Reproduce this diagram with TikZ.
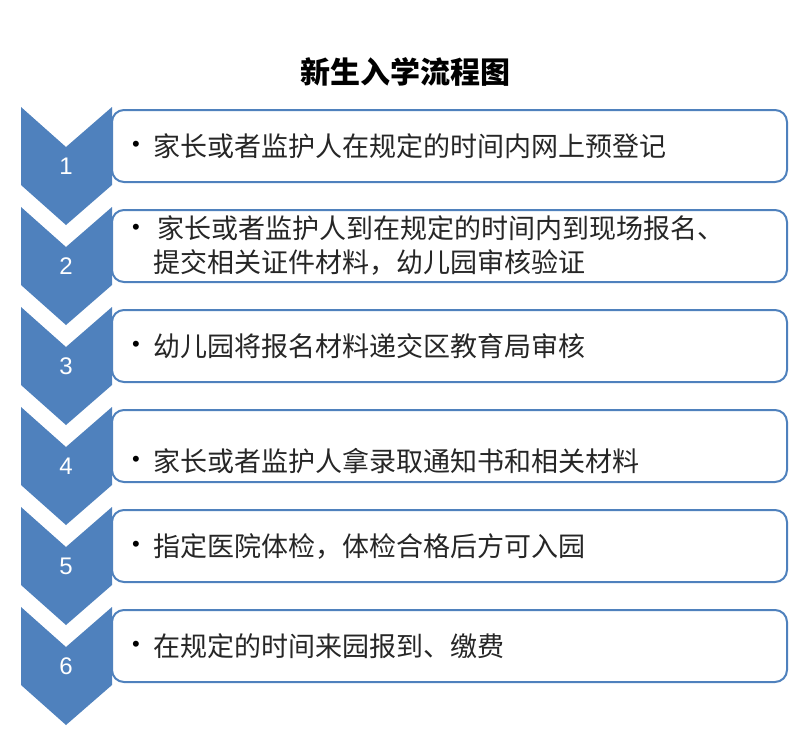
\documentclass[tikz,border=0pt]{standalone}
\usepackage{fontspec}
\setsansfont{Liberation Sans}
\newfontfamily\cjk{Noto Sans CJK SC}
\definecolor{cblue}{HTML}{4F81BD}
\begin{document}
\begin{tikzpicture}[x=1pt,y=-1pt,
  chev/.style={fill=cblue,draw=none},
  stepbox/.style={draw=cblue,line width=2pt,rounded corners=12pt,fill=white},
  num/.style={text=white,font=\sffamily\fontsize{24}{24}\selectfont},
  bul/.style={font=\sffamily\fontsize{22}{22}\selectfont},
  txt/.style={anchor=west,inner sep=0pt,font=\cjk\fontsize{27}{34}\selectfont,align=left,text=black!85}]
\useasboundingbox (0,0) rectangle (808,736);
\node[font=\cjk\bfseries\fontsize{30}{30}\selectfont] (title) at (405,72) {新生入学流程图};
\foreach \i/\t/\by/\ty in {1/{家长或者监护人在规定的时间内网上预登记}/146/146,
  2/{\,家长或者监护人到在规定的时间内到现场报名、\\提交相关证件材料，幼儿园审核验证}/129/146,
  3/{幼儿园将报名材料递交区教育局审核}/146/146,
  4/{家长或者监护人拿录取通知书和相关材料}/161/161,
  5/{指定医院体检，体检合格后方可入园}/146/146,
  6/{在规定的时间来园报到、缴费}/146/146}{
  \pgfmathsetmacro{\yo}{(\i-1)*100}
  \begin{scope}[yshift={-\yo pt}]
    \fill[chev] (21,107) -- (66,147) -- (112,107) -- (112,185) -- (66,225) -- (21,185) -- cycle;
    \node[num] (n\i) at (66,166) {\i};
    \draw[stepbox] (112,110) rectangle (787,182);
    \node[bul] (b\i) at (136,\by) {\textbullet};
    \node[txt] (t\i) at (153,\ty) {\t};
  \end{scope}}
\end{tikzpicture}
\end{document}
